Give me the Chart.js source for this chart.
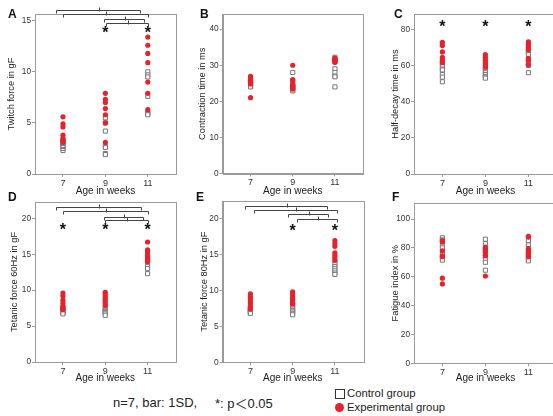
<!DOCTYPE html>
<html>
<head>
<meta charset="utf-8">
<script src="https://cdn.jsdelivr.net/npm/chart.js@4.4.1/dist/chart.umd.min.js"></script>
<style>
  body { margin: 0; background: #fff; overflow: hidden; font-family: "Liberation Sans", Arial, sans-serif; color: #222; }
  #page { position: relative; width: 553px; height: 416px; overflow: hidden; }
  canvas { position: absolute; }
  .letter { position: absolute; font-weight: bold; font-size: 12px; line-height: 12px; color: #111; }
  .txt { position: absolute; font-size: 11.3px; line-height: 14px; white-space: nowrap; color: #222; }
  .note { position: absolute; font-size: 13px; line-height: 14px; white-space: nowrap; color: #222; }
</style>
</head>
<body>
<div id="page">
  <canvas id="cA"></canvas><canvas id="cB"></canvas><canvas id="cC"></canvas>
  <canvas id="cD"></canvas><canvas id="cE"></canvas><canvas id="cF"></canvas>
  <div class="letter" style="left:8px;top:8px">A</div>
  <div class="letter" style="left:200px;top:8px">B</div>
  <div class="letter" style="left:394px;top:8px">C</div>
  <div class="letter" style="left:8px;top:191px">D</div>
  <div class="letter" style="left:196px;top:191px">E</div>
  <div class="letter" style="left:392px;top:191px">F</div>

  <div class="note" style="left:113px;top:396px">n=7, bar: 1SD,</div>
  <div class="note" style="left:215px;top:396px">*: p<span style="font-family:'Noto Sans CJK JP',sans-serif;font-size:13px">＜</span>0.05</div>
  <div style="position:absolute;left:335px;top:389px;width:8px;height:8px;border:1px solid #333"></div>
  <div class="txt" style="left:347px;top:386px">Control group</div>
  <div style="position:absolute;left:335px;top:403px;width:9px;height:9px;border-radius:50%;background:#e8212b"></div>
  <div class="txt" style="left:347px;top:400px">Experimental group</div>
</div>
<script>
// ---- data ----
const ages = [7, 9, 11];

// A: twitch force (gF)
const twitchCtrl = [[2.3, 2.5, 2.7, 2.8, 3.0, 3.1, 3.3], [5.5, 5.0, 4.2, 2.7, 2.6, 2.0, 1.9], [10.0, 9.7, 9.5, 7.6, 6.0, 5.9, 5.8]];
const twitchExp = [[5.6, 4.9, 4.6, 3.8, 3.5, 3.3, 3.1], [7.9, 7.3, 7.0, 6.4, 5.8, 5.0, 3.1], [13.4, 12.6, 11.8, 10.9, 9.0, 7.9, 6.3]];
const twitchTicks = [0, 5, 10, 15];
const twitchBrackets = [[6.65, 10.65, 16.07], [7, 11.03, 15.7], [8.95, 10.8, 15.2], [9.05, 11.03, 14.82]];
const twitchStars = [[9, 14.18], [11, 14.18]];

// B: contraction time (ms)
const contrCtrl = [[26.0, 25.5, 25.0, 24.6, 24.3, 24.1, 24.0], [28.0, 25.0, 24.8, 24.0, 23.5, 23.0, 22.9], [32.2, 31.0, 29.0, 28.0, 27.0, 26.8, 24.0]];
const contrExp = [[26.9, 26.3, 25.7, 25.3, 25.0, 24.8, 21.0], [30.0, 26.0, 25.8, 24.5, 24.2, 23.8, 23.4], [32.0, 31.8, 31.6, 31.4, 31.2, 31.0, 30.8]];
const contrTicks = [0, 10, 20, 30, 40];

// C: half-decay time (ms)
const halfCtrl = [[61.0, 59.5, 58.0, 57.5, 55.0, 53.5, 51.0], [58.0, 57.0, 56.0, 55.0, 54.0, 53.5, 53.0], [68.0, 67.5, 66.0, 62.0, 61.5, 60.0, 56.0]];
const halfExp = [[72.8, 71.0, 67.5, 64.5, 63.0, 62.0, 61.5], [66.0, 64.5, 63.0, 62.0, 61.0, 60.0, 59.0], [73.0, 71.5, 70.0, 68.8, 64.0, 63.0, 60.5]];
const halfTicks = [0, 20, 40, 60, 80];
const halfStars = [[7, 83.3], [9, 83.3], [11, 83.3]];

// D: tetanic force 60Hz (gF)
const tet60Ctrl = [[7.6, 7.4, 7.2, 7.0, 6.9, 6.8, 6.7], [7.5, 7.3, 7.2, 7.0, 6.9, 6.7, 6.5], [14.9, 14.5, 14.1, 13.7, 13.3, 13.0, 12.3]];
const tet60Exp = [[9.6, 9.2, 8.6, 8.2, 7.8, 7.5, 7.3], [9.7, 9.4, 9.1, 8.8, 8.5, 8.2, 7.9], [16.7, 15.6, 15.3, 14.8, 14.5, 14.3, 14.0]];
const tet60Brackets = [[6.69, 10.69, 21.6], [7, 11, 21.0], [8.92, 10.8, 20.2], [9, 11, 19.76]];
const tet60Stars = [[7, 18.97], [9, 18.97], [11, 18.97]];

// E: tetanic force 80Hz (gF)
const tet80Ctrl = [[7.6, 7.4, 7.2, 7.1, 7.0, 6.9, 6.8], [8.0, 7.7, 7.4, 7.2, 7.0, 6.8, 6.6], [14.0, 13.6, 13.3, 13.0, 12.7, 12.4, 12.2]];
const tet80Exp = [[9.5, 9.1, 8.8, 8.4, 8.1, 7.7, 7.4], [9.8, 9.5, 9.2, 8.9, 8.6, 8.3, 8.1], [16.9, 16.5, 16.1, 15.2, 14.9, 14.6, 14.2]];
const tetTicks = [0, 5, 10, 15, 20];
const tet80Brackets = [[6.73, 10.62, 21.7], [7.18, 11.08, 21.15], [8.76, 10.69, 20.55], [9.21, 11.08, 19.9]];
const tet80Stars = [[9, 18.8], [11, 18.8]];

// F: fatigue index (%)
const fatCtrl = [[87.0, 85.5, 82.5, 80.0, 76.0, 73.0, 71.5], [86.0, 83.0, 78.0, 74.0, 72.0, 70.0, 64.5], [85.0, 82.0, 78.0, 75.5, 73.0, 71.5, 71.0]];
const fatExp = [[85.0, 84.0, 78.0, 74.5, 74.0, 59.0, 55.0], [80.5, 79.5, 78.5, 77.0, 75.0, 74.5, 60.5], [88.0, 87.5, 79.5, 77.5, 76.0, 75.0, 74.0]];
const fatTicks = [0, 20, 40, 60, 80, 100];

Chart.defaults.font.family = '"Liberation Sans", Arial, sans-serif';
Chart.defaults.animation = false;

const RED = "#e8212b";
const BOX = "#9a9a9a";

function toPoints(groups) {
  return groups.flatMap((vals, i) => vals.map(v => ({ x: ages[i], y: v })));
}

// box, brackets and stars
const decor = {
  id: "decor",
  afterDraw(chart) {
    const o = chart.options.plugins.decor || {};
    const { ctx, chartArea: a } = chart;
    const xs = chart.scales.x, ys = chart.scales.y;
    ctx.save();
    ctx.strokeStyle = BOX; ctx.lineWidth = 1;
    ctx.strokeRect(Math.round(a.left) + 0.5, Math.round(a.top) + 0.5, Math.round(a.right - a.left), Math.round(a.bottom - a.top));
    ctx.strokeStyle = "#444";
    (o.brackets || []).forEach(([x1, x2, y]) => {
      const p1 = Math.round(xs.getPixelForValue(x1)) + 0.5;
      const p2 = Math.round(xs.getPixelForValue(x2)) + 0.5;
      const py = Math.round(ys.getPixelForValue(y)) + 0.5;
      const mid = Math.round((p1 + p2) / 2) + 0.5;
      ctx.beginPath();
      ctx.moveTo(p1, py + 3); ctx.lineTo(p1, py); ctx.lineTo(p2, py); ctx.lineTo(p2, py + 3);
      ctx.moveTo(mid, py - 3); ctx.lineTo(mid, py + 1);
      ctx.stroke();
    });
    ctx.fillStyle = "#111";
    ctx.font = 'bold 16px "Liberation Sans", Arial, sans-serif';
    ctx.textAlign = "center"; ctx.textBaseline = "alphabetic";
    (o.stars || []).forEach(([x, y]) => {
      ctx.fillText("*", xs.getPixelForValue(x), ys.getPixelForValue(y) + 9);
    });
    ctx.restore();
  }
};

function makePanel(id, p) {
  const el = document.getElementById(id);
  el.style.left = p.cx + "px"; el.style.top = p.cy + "px";
  el.style.width = p.cw + "px"; el.style.height = p.ch + "px";
  el.width = p.cw; el.height = p.ch;
  const padLeft = p.titleX - 6 - p.cx;
  const yW = p.box.l - p.cx - padLeft;
  const xH = p.cy + p.ch - p.box.b;
  return new Chart(el, {
    type: "scatter",
    data: {
      datasets: [
        { label: "Experimental group", data: toPoints(p.exp), order: 1,
          pointStyle: "circle", pointRadius: 2.6, backgroundColor: RED, borderColor: RED, borderWidth: 0 },
        { label: "Control group", data: toPoints(p.ctrl), order: 2,
          pointStyle: "rect", pointRadius: 2.9, backgroundColor: "#fff", borderColor: "#777", borderWidth: 1 }
      ]
    },
    options: {
      responsive: false,
      layout: { padding: { left: padLeft, top: p.box.t - p.cy, right: p.cx + p.cw - p.box.r, bottom: 0 } },
      plugins: { legend: { display: false }, tooltip: { enabled: false },
        decor: { brackets: p.brackets, stars: p.stars } },
      scales: {
        x: {
          type: "linear", min: 5.68, max: 12.33,
          afterBuildTicks: s => { s.ticks = ages.map(v => ({ value: v })); },
          afterFit: s => { s.height = xH; },
          ticks: { font: { size: 9 }, color: "#333", padding: 1, maxRotation: 0 },
          grid: { drawOnChartArea: false, tickLength: 3, color: BOX },
          border: { color: BOX },
          title: { display: true, text: "Age in weeks", font: { size: 10 }, color: "#222", padding: 0 }
        },
        y: {
          min: 0, max: p.yMax,
          afterBuildTicks: s => { s.ticks = p.yTicks.map(v => ({ value: v })); },
          afterFit: s => { s.width = yW; },
          ticks: { font: { size: 8.3 }, color: "#333", padding: 1 },
          grid: { drawOnChartArea: false, tickLength: 3, color: BOX },
          border: { color: BOX },
          title: { display: true, text: p.yTitle, font: { size: 9.3 }, color: "#222", padding: 0 }
        }
      }
    },
    plugins: [decor]
  });
}

makePanel("cA", { cx: 0, cy: 0, cw: 185, ch: 197, titleX: 12, box: { l: 35, t: 14, r: 176, b: 174 },
  yMax: 15.66, yTicks: twitchTicks, yTitle: "Twitch force in gF", ctrl: twitchCtrl, exp: twitchExp,
  brackets: twitchBrackets, stars: twitchStars });
makePanel("cB", { cx: 185, cy: 0, cw: 183, ch: 197, titleX: 203, box: { l: 222.7, t: 14, r: 365.7, b: 173.5 },
  yMax: 44.2, yTicks: contrTicks, yTitle: "Contraction time in ms", ctrl: contrCtrl, exp: contrExp });
makePanel("cC", { cx: 370, cy: 0, cw: 195, ch: 197, titleX: 396, box: { l: 414, t: 14, r: 557, b: 174 },
  yMax: 88.45, yTicks: halfTicks, yTitle: "Half-decay time in ms", ctrl: halfCtrl, exp: halfExp,
  stars: halfStars });
makePanel("cD", { cx: 0, cy: 190, cw: 185, ch: 194, titleX: 15, box: { l: 35, t: 202, r: 175.7, b: 362 },
  yMax: 22.27, yTicks: tetTicks, yTitle: "Tetanic force 60Hz in gF", ctrl: tet60Ctrl, exp: tet60Exp,
  brackets: tet60Brackets, stars: tet60Stars });
makePanel("cE", { cx: 185, cy: 190, cw: 183, ch: 194, titleX: 205, box: { l: 222.5, t: 201, r: 366, b: 362.3 },
  yMax: 22.4, yTicks: tetTicks, yTitle: "Tetanic force 80Hz in gF", ctrl: tet80Ctrl, exp: tet80Exp,
  brackets: tet80Brackets, stars: tet80Stars });
makePanel("cF", { cx: 370, cy: 190, cw: 195, ch: 194, titleX: 396, box: { l: 414, t: 203, r: 557, b: 363.3 },
  yMax: 111.1, yTicks: fatTicks, yTitle: "Fatigue index in %", ctrl: fatCtrl, exp: fatExp });
</script>
</body>
</html>
